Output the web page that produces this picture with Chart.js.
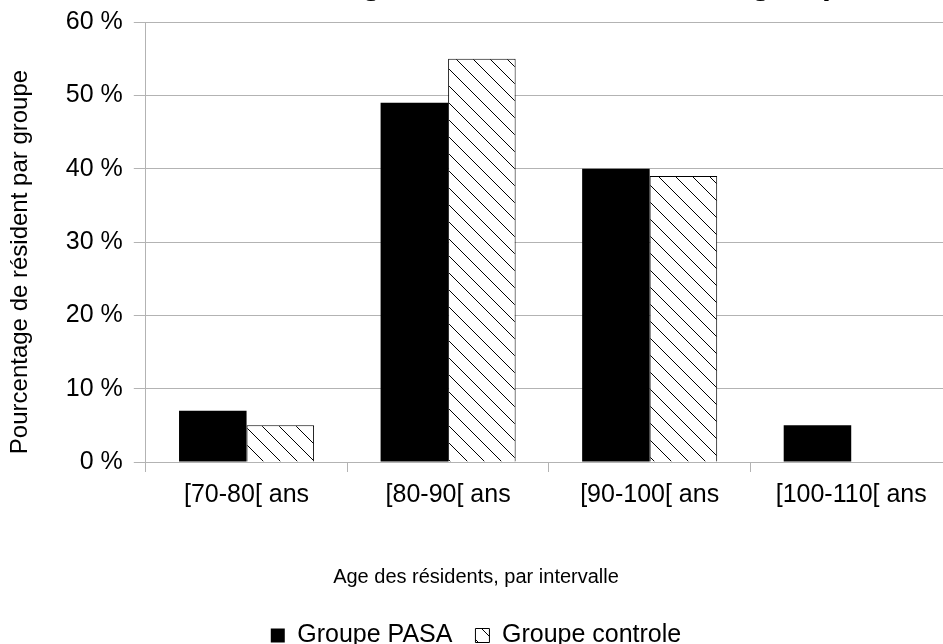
<!DOCTYPE html>
<html><head><meta charset="utf-8">
<script src="https://cdn.jsdelivr.net/npm/chart.js@4"></script>
<style>
html,body{margin:0;padding:0;overflow:hidden;background:#fff;width:943px;height:644px;position:relative}
#c{position:absolute;left:0;top:-40px}
</style></head><body>
<canvas id="c" width="960" height="698"></canvas>
<script>
const chartTitle = "Distribution de l'âge des résidents selon le groupe";
const xTitle = 'Age des résidents, par intervalle';
const yTitle = 'Pourcentage de résident par groupe      ';
const categories = ['[70-80[ ans', '[80-90[ ans', '[90-100[ ans', '[100-110[ ans'];
const seriesNames = ['Groupe PASA', 'Groupe controle'];
const pasaValues = [7, 49, 40, 5];
const controleValues = [5, 55, 39, 0];
const yMin = 0, yMax = 60, yStep = 10;

function hatchPattern() {
  const s = 17;
  const c = document.createElement('canvas');
  c.width = s; c.height = s;
  const g = c.getContext('2d');
  g.fillStyle = '#fff'; g.fillRect(0, 0, s, s);
  g.strokeStyle = '#000'; g.lineWidth = 1;
  g.beginPath();
  for (let k = -1; k <= 1; k++) { g.moveTo(0, k * s); g.lineTo(s, s + k * s); }
  g.stroke();
  return g.createPattern(c, 'repeat');
}

const FONT = 'Liberation Sans';
const ctx = document.getElementById('c').getContext('2d');
new Chart(ctx, {
  type: 'bar',
  data: {
    labels: categories,
    datasets: [
      { label: seriesNames[0], data: pasaValues, backgroundColor: '#000', borderColor: '#000', borderWidth: 0,
        categoryPercentage: 0.67, barPercentage: 1.0 },
      { label: seriesNames[1], data: controleValues, backgroundColor: hatchPattern(), borderColor: '#000', borderWidth: 1,
        categoryPercentage: 0.67, barPercentage: 1.0 }
    ]
  },
  options: {
    responsive: false,
    devicePixelRatio: 1,
    animation: false,
    layout: { padding: { left: 0, right: 8, top: 0, bottom: 0 } },
    plugins: {
      title: { display: true, text: chartTitle, color: '#000',
        font: { family: FONT, size: 32, weight: 'bold' }, padding: { top: 6, bottom: 17.6 } },
      subtitle: { display: true, position: 'bottom', weight: 500, text: xTitle, color: '#000',
        font: { family: FONT, size: 20 }, padding: { top: 47, bottom: 11 } },
      legend: { position: 'bottom', labels: { boxWidth: 14, boxHeight: 14, padding: 23, color: '#000',
        font: { family: FONT, size: 25 } } },
      tooltip: { enabled: false }
    },
    scales: {
      x: {
        grid: { offset: true, drawOnChartArea: false, tickLength: 10, color: '#b3b3b3' },
        border: { color: '#b3b3b3' },
        ticks: { color: '#000', font: { family: FONT, size: 25 }, padding: 8, maxRotation: 0, autoSkip: false }
      },
      y: {
        min: yMin, max: yMax,
        grid: { color: '#b3b3b3', tickLength: 12 },
        border: { color: '#b3b3b3' },
        ticks: { stepSize: yStep, color: '#000', font: { family: FONT, size: 25 }, padding: 11,
          callback: v => v + ' %' },
        title: { display: true, text: yTitle, color: '#000', font: { family: FONT, size: 24 },
          padding: { top: 6, bottom: 20 } }
      }
    }
  }
});
</script>
</body></html>
